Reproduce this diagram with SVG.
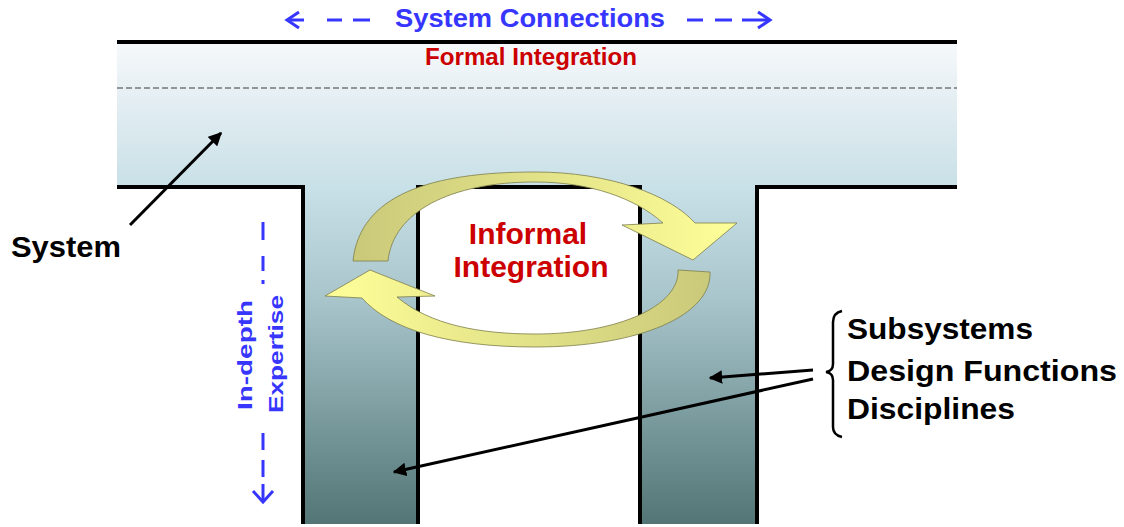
<svg xmlns="http://www.w3.org/2000/svg" width="1124" height="527" viewBox="0 0 1124 527">
  <defs>
    <linearGradient id="tFill" gradientUnits="userSpaceOnUse" x1="0" y1="42" x2="0" y2="527">
      <stop offset="0" stop-color="#f6f9fb"/>
      <stop offset="0.095" stop-color="#e8f0f4"/>
      <stop offset="0.3" stop-color="#c8e0e7"/>
      <stop offset="0.53" stop-color="#a8c5cb"/>
      <stop offset="0.8" stop-color="#76979a"/>
      <stop offset="1" stop-color="#537474"/>
    </linearGradient>
    <linearGradient id="arrTop" gradientUnits="userSpaceOnUse" x1="353" y1="0" x2="737" y2="0">
      <stop offset="0" stop-color="#c9c97a"/>
      <stop offset="0.6" stop-color="#e8e88c"/>
      <stop offset="1" stop-color="#ffff99"/>
    </linearGradient>
    <linearGradient id="arrBot" gradientUnits="userSpaceOnUse" x1="712" y1="0" x2="325" y2="0">
      <stop offset="0" stop-color="#c9c97a"/>
      <stop offset="0.6" stop-color="#e8e88c"/>
      <stop offset="1" stop-color="#ffff99"/>
    </linearGradient>
    <marker id="ah" viewBox="0 0 10 10" refX="9" refY="5" markerWidth="4.5" markerHeight="4.5" orient="auto" markerUnits="strokeWidth">
      <path d="M0,0 L10,5 L0,10 Z" fill="#000"/>
    </marker>
    <style>
      .outline { fill: none; stroke: #000; stroke-width: 4; stroke-linecap: butt; }
      .cyc { stroke: #7d7d4a; stroke-width: 0.8; }
      .blue { fill: #3636ff; font-family: "Liberation Sans", Arial, sans-serif; font-weight: bold; }
      .red { fill: #cc0000; font-family: "Liberation Sans", Arial, sans-serif; font-weight: bold; }
      .blk { fill: #000; font-family: "Liberation Sans", Arial, sans-serif; font-weight: bold; }
      .bdash { fill: none; stroke: #3636ff; stroke-width: 3; }
      .conn { fill: none; stroke: #000; stroke-width: 3; }
    </style>
  </defs>

  <g id="system-t">
    <path d="M117,42 H957 V187 H757 V524 H640 V187 H418 V524 H303 V187 H117 Z" fill="url(#tFill)"/>
    <line x1="117" y1="88" x2="957" y2="88" stroke="#3a3a3a" stroke-width="1.2" stroke-dasharray="6,3"/>
    <line class="outline" x1="117" y1="42" x2="957" y2="42"/>
    <polyline class="outline" points="117,187 303,187 303,524"/>
    <polyline class="outline" points="418,524 418,187 640,187 640,524"/>
    <polyline class="outline" points="757,524 757,187 957,187"/>
  </g>

  <g id="system-connections">
    <path class="bdash" d="M299,12 L287,20 L299,28"/>
    <path class="bdash" d="M290,20 H304 M327,20 H342 M353,20 H370"/>
    <path class="bdash" d="M687,20 H703 M715,20 H732 M742,20 H769"/>
    <path class="bdash" d="M758,12 L770,20 L758,28"/>
    <text class="blue" x="530" y="27" font-size="26" text-anchor="middle" textLength="270" lengthAdjust="spacingAndGlyphs">System Connections</text>
  </g>

  <g id="formal-integration">
    <text class="red" x="531" y="65" font-size="23" text-anchor="middle" textLength="212" lengthAdjust="spacingAndGlyphs">Formal Integration</text>
  </g>

  <g id="informal-cycle">
    <path class="cyc" fill="url(#arrTop)" d="M353,261 C360,195 430,172 535,172 C610,172 670,195 695,223 L737,223 L693,260 L622,225 L663,223 C635,198 590,182 535,182 C450,182 393,212 388,261 Z"/>
    <path class="cyc" fill="url(#arrBot)" d="M325,296 L370,270 L435,296 L397,297 C430,325 480,334 535,334 C620,334 680,305 678,270 L710,272 C712,315 640,347 535,347 C450,347 390,330 362,298 Z"/>
    <text class="red" x="528" y="244" font-size="30" text-anchor="middle">Informal</text>
    <text class="red" x="531" y="277" font-size="30" text-anchor="middle">Integration</text>
  </g>

  <g id="in-depth-expertise">
    <path class="bdash" d="M263,222 V240 M263,256 V271 M263,280 V284 M263,433 V450 M263,460 V477 M263,484 V501"/>
    <path class="bdash" d="M253,491 L263,502 L273,491"/>
    <text class="blue" font-size="21" text-anchor="middle" transform="translate(252,355) rotate(-90)" textLength="110" lengthAdjust="spacingAndGlyphs">In-depth</text>
    <text class="blue" font-size="21" text-anchor="middle" transform="translate(283,354) rotate(-90)" textLength="118" lengthAdjust="spacingAndGlyphs">Expertise</text>
  </g>

  <g id="system-label">
    <text class="blk" x="11" y="257" font-size="30" textLength="110" lengthAdjust="spacingAndGlyphs">System</text>
  </g>

  <g id="subsystems-label">
    <path d="M842,311 Q833,313 833,322 V364 Q833,371 826,372 Q833,373 833,380 V427 Q833,435 842,437" fill="none" stroke="#000" stroke-width="2.5"/>
    <text class="blk" x="847" y="339" font-size="30" textLength="186" lengthAdjust="spacingAndGlyphs">Subsystems</text>
    <text class="blk" x="847" y="381" font-size="30" textLength="270" lengthAdjust="spacingAndGlyphs">Design Functions</text>
    <text class="blk" x="847" y="419" font-size="30" textLength="168" lengthAdjust="spacingAndGlyphs">Disciplines</text>
  </g>

  <g id="connectors">
    <line class="conn" x1="130" y1="225" x2="221" y2="133" marker-end="url(#ah)"/>
    <line class="conn" x1="813" y1="370" x2="710" y2="378" marker-end="url(#ah)"/>
    <line class="conn" x1="813" y1="379" x2="394" y2="472" marker-end="url(#ah)"/>
  </g>
</svg>
